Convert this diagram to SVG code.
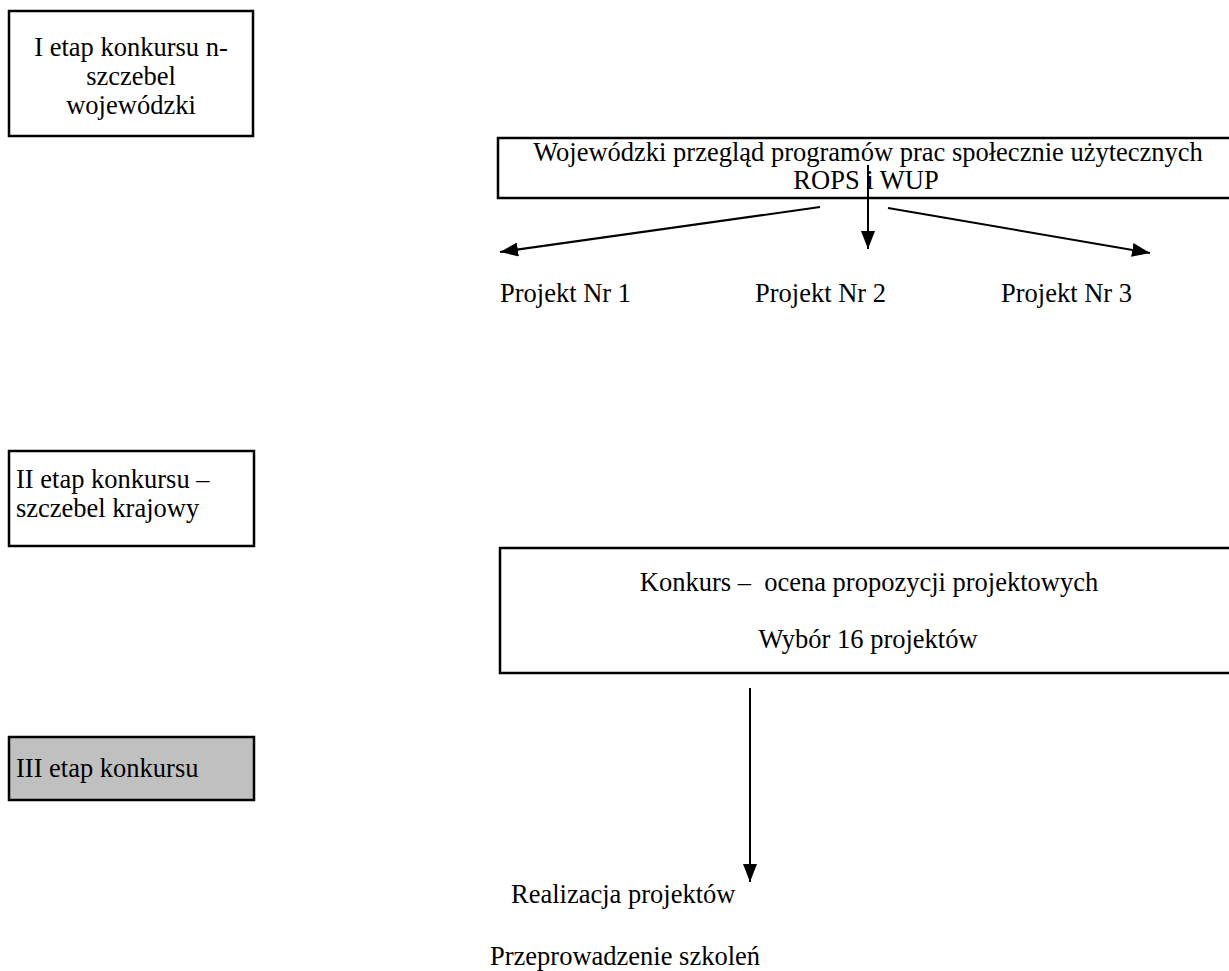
<svg xmlns="http://www.w3.org/2000/svg" width="1229" height="971" viewBox="0 0 1229 971">
<style>
text{font-family:"Liberation Serif","Times New Roman",serif;font-size:26.5px;fill:#000}
.box{fill:#fff;stroke:#000;stroke-width:2.5}
.ln{stroke:#000;stroke-width:2;fill:none}
.bl{stroke:#000;stroke-width:2.5;fill:none}
.c{text-anchor:middle}
</style>
<defs>
<marker id="ah" viewBox="0 0 18 14" refX="18" refY="7" markerWidth="18" markerHeight="14" markerUnits="userSpaceOnUse" orient="auto">
<path d="M0,0 L18,7 L0,14 z" fill="#000"/>
</marker>
</defs>
<rect width="1229" height="971" fill="#fff"/>
<g id="stage1">
<rect class="box" x="9" y="11" width="244" height="125"/>
<text class="c" x="131" y="56">I etap konkursu n-</text>
<text class="c" x="131" y="85">szczebel</text>
<text class="c" x="131" y="114">wojewódzki</text>
</g>
<g id="review">
<path class="bl" d="M1229,138 H498 V198 H1229"/>
<text class="c" x="868" y="161">Wojewódzki przegląd programów prac społecznie użytecznych</text>
<text class="c" x="866" y="189">ROPS i WUP</text>
</g>
<g id="p1"><text x="500" y="302">Projekt Nr 1</text></g>
<g id="p2"><text x="755" y="302">Projekt Nr 2</text></g>
<g id="p3"><text x="1001" y="302">Projekt Nr 3</text></g>
<g id="stage2">
<rect class="box" x="9" y="451" width="245" height="95"/>
<text x="16" y="488">II etap konkursu –</text>
<text x="16" y="517">szczebel krajowy</text>
</g>
<g id="contest">
<path class="bl" d="M1229,548 H500 V673 H1229"/>
<text class="c" x="869" y="591" xml:space="preserve">Konkurs –  ocena propozycji projektowych</text>
<text class="c" x="868" y="648">Wybór 16 projektów</text>
</g>
<g id="stage3">
<rect x="9" y="737" width="245" height="63" fill="#c0c0c0" stroke="#000" stroke-width="2.5"/>
<text x="16" y="777">III etap konkursu</text>
</g>
<g id="realization">
<text x="511" y="903">Realizacja projektów</text>
<text x="490" y="965">Przeprowadzenie szkoleń</text>
</g>
<g id="connectors">
<line class="ln" x1="868" y1="165" x2="868" y2="249" marker-end="url(#ah)"/>
<line class="ln" x1="820" y1="207" x2="500" y2="252" marker-end="url(#ah)"/>
<line class="ln" x1="888" y1="208" x2="1150" y2="253" marker-end="url(#ah)"/>
<line class="ln" x1="750" y1="688" x2="750" y2="882" marker-end="url(#ah)"/>
</g>
</svg>
